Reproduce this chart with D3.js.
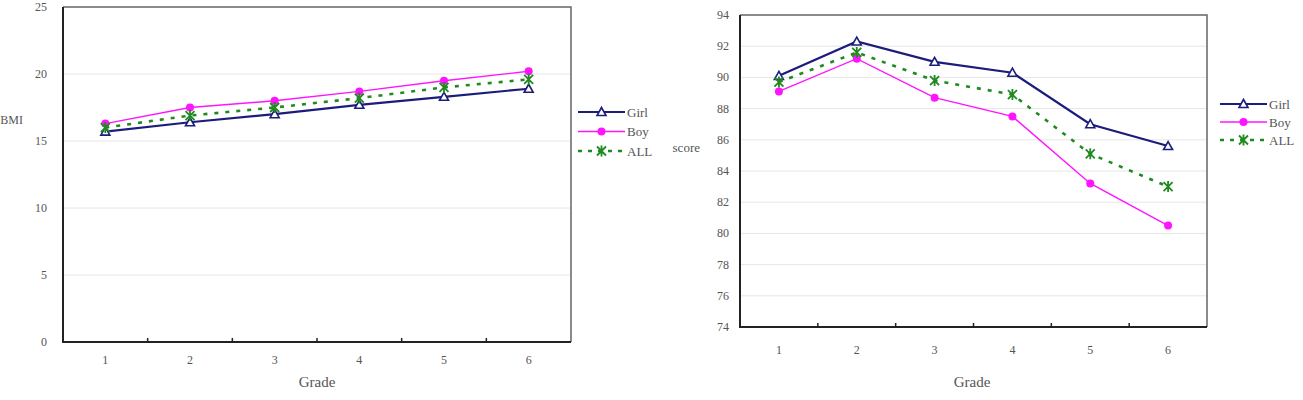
<!DOCTYPE html>
<html>
<head>
<meta charset="utf-8">
<script src="https://cdn.jsdelivr.net/npm/d3@7"></script>
<style>
  body { margin: 0; background: #fff; }
  svg { display: block; font-family: "Liberation Serif", "DejaVu Serif", serif; }
  .tick-label { fill: #555; font-size: 12px; }
  .axis-title { fill: #555; font-size: 13px; }
  .legend-text { fill: #555; font-size: 13px; }
</style>
</head>
<body>
<svg id="chart" width="1303" height="400"></svg>
<script>
// Grades and the two panels' values
const grades = [1, 2, 3, 4, 5, 6];
const seriesNames = ["Girl", "Boy", "ALL"];

const bmiGirl = [15.7, 16.4, 17.0, 17.7, 18.3, 18.9];
const bmiBoy = [16.3, 17.5, 18.0, 18.7, 19.5, 20.2];
const bmiAll = [16.0, 16.9, 17.5, 18.2, 19.0, 19.6];
const bmiTicks = [0, 5, 10, 15, 20, 25];

const scoreGirl = [90.1, 92.3, 91.0, 90.3, 87.0, 85.6];
const scoreBoy = [89.1, 91.2, 88.7, 87.5, 83.2, 80.5];
const scoreAll = [89.7, 91.6, 89.8, 88.9, 85.1, 83.0];
const scoreTicks = [74, 76, 78, 80, 82, 84, 86, 88, 90, 92, 94];

const styles = {
  Girl: { color: "#1c1c7c", width: 2.2, dash: null, marker: "triangle" },
  Boy: { color: "#ff14ff", width: 1.4, dash: null, marker: "circle" },
  ALL: { color: "#1f8a1f", width: 2.6, dash: "4,7", marker: "star" }
};

const svg = d3.select("#chart");

function drawMarker(sel, type, color) {
  if (type === "triangle") {
    sel.append("path")
      .attr("d", "M0,-4.5 L4.5,3.5 L-4.5,3.5 Z")
      .attr("fill", "#fff")
      .attr("stroke", color)
      .attr("stroke-width", 1.6);
  } else if (type === "circle") {
    sel.append("circle").attr("r", 4).attr("fill", color);
  } else {
    sel.append("path")
      .attr("d", "M-4.5,-4.5 L4.5,4.5 M-4.5,4.5 L4.5,-4.5 M0,-5.5 L0,5.5")
      .attr("fill", "none")
      .attr("stroke", color)
      .attr("stroke-width", 1.8);
  }
}

function drawChart(cfg) {
  const g = svg.append("g");
  const x = d3.scaleBand().domain(grades).range([cfg.left, cfg.right]);
  const y = d3.scaleLinear().domain(cfg.domain).range([cfg.bottom, cfg.top]);

  // gridlines
  g.selectAll("line.grid")
    .data(cfg.ticks.slice(1, -1))
    .join("line")
    .attr("x1", cfg.left).attr("x2", cfg.right)
    .attr("y1", d => y(d)).attr("y2", d => y(d))
    .attr("stroke", "#e6e6e6").attr("stroke-width", 1);

  // frame: top/right lighter, left/bottom dark
  g.append("path")
    .attr("d", `M${cfg.left},${cfg.top} L${cfg.right},${cfg.top} L${cfg.right},${cfg.bottom}`)
    .attr("fill", "none").attr("stroke", "#666").attr("stroke-width", 1.5);
  g.append("path")
    .attr("d", `M${cfg.left},${cfg.top} L${cfg.left},${cfg.bottom} L${cfg.right},${cfg.bottom}`)
    .attr("fill", "none").attr("stroke", "#222").attr("stroke-width", 2);

  // inner tick marks between grades
  g.selectAll("line.xtick")
    .data(grades.slice(1))
    .join("line")
    .attr("x1", d => x(d)).attr("x2", d => x(d))
    .attr("y1", cfg.bottom).attr("y2", cfg.bottom - 4)
    .attr("stroke", "#222").attr("stroke-width", 1.5);

  // tick labels
  g.selectAll("text.ylab")
    .data(cfg.ticks)
    .join("text")
    .attr("class", "tick-label")
    .attr("x", cfg.left - cfg.yLabelGap)
    .attr("y", d => y(d) + 4)
    .attr("text-anchor", "end")
    .text(d => d);

  g.selectAll("text.xlab")
    .data(grades)
    .join("text")
    .attr("class", "tick-label")
    .attr("x", d => x(d) + x.bandwidth() / 2)
    .attr("y", cfg.xLabelY)
    .attr("text-anchor", "middle")
    .text(d => d);

  g.append("text")
    .attr("class", "axis-title")
    .attr("x", cfg.gradeX).attr("y", cfg.gradeY)
    .attr("text-anchor", "middle")
    .style("font-size", "15px")
    .text("Grade");

  g.append("text")
    .attr("class", "axis-title")
    .attr("x", cfg.yTitleX).attr("y", cfg.yTitleY)
    .attr("text-anchor", "end")
    .style("font-size", cfg.yTitleSize)
    .text(cfg.yTitle);

  const line = d3.line()
    .x((d, i) => x(grades[i]) + x.bandwidth() / 2)
    .y(d => y(d));

  cfg.series.forEach((vals, si) => {
    const st = styles[seriesNames[si]];
    g.append("path")
      .attr("d", line(vals))
      .attr("fill", "none")
      .attr("stroke", st.color)
      .attr("stroke-width", st.width)
      .attr("stroke-dasharray", st.dash);
  });
  cfg.series.forEach((vals, si) => {
    const st = styles[seriesNames[si]];
    vals.forEach((v, i) => {
      const m = g.append("g")
        .attr("transform", `translate(${x(grades[i]) + x.bandwidth() / 2},${y(v)})`);
      drawMarker(m, st.marker, st.color);
    });
  });

  // legend
  seriesNames.forEach((name, i) => {
    const st = styles[name];
    const ly = cfg.legendY + i * cfg.legendStep;
    const lg = g.append("g").attr("transform", `translate(${cfg.legendX},${ly})`);
    lg.append("line")
      .attr("x1", 0).attr("x2", 47).attr("y1", 0).attr("y2", 0)
      .attr("stroke", st.color)
      .attr("stroke-width", st.width)
      .attr("stroke-dasharray", st.dash ? "4,6" : null);
    const mk = lg.append("g").attr("transform", "translate(23.5,0)");
    drawMarker(mk, st.marker, st.color);
    lg.append("text")
      .attr("class", "legend-text")
      .attr("x", 49).attr("y", 4.5)
      .text(name);
  });
}

drawChart({
  left: 63, right: 571, top: 7, bottom: 342,
  domain: [0, 25], ticks: bmiTicks, yLabelGap: 16,
  series: [bmiGirl, bmiBoy, bmiAll],
  xLabelY: 364, gradeX: 317, gradeY: 387,
  yTitle: "BMI", yTitleX: 23, yTitleY: 124, yTitleSize: "12px",
  legendX: 578, legendY: 112, legendStep: 19.5
});

drawChart({
  left: 740, right: 1207, top: 15, bottom: 327,
  domain: [74, 94], ticks: scoreTicks, yLabelGap: 11,
  series: [scoreGirl, scoreBoy, scoreAll],
  xLabelY: 354, gradeX: 972, gradeY: 387,
  yTitle: "score", yTitleX: 700, yTitleY: 152, yTitleSize: "13px",
  legendX: 1220, legendY: 104, legendStep: 18
});
</script>
</body>
</html>
